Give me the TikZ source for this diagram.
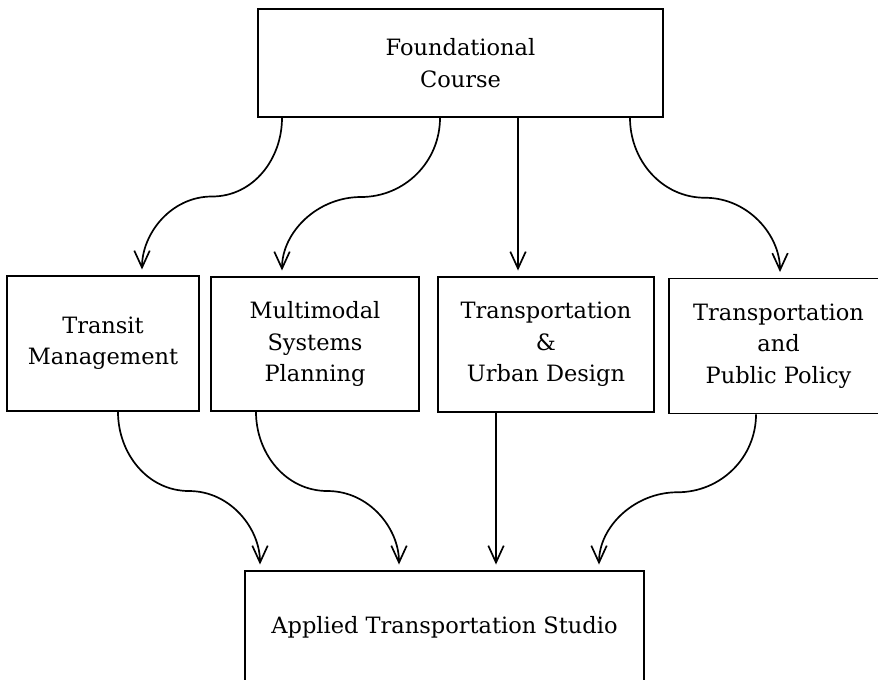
\documentclass[tikz,border=0pt]{standalone}
\usepackage{fontspec}
\setmainfont{DejaVu Serif}
\usetikzlibrary{arrows.meta, calc}
\tikzset{
    box/.style={draw, line width=1.2pt, align=center, inner sep=0pt, font=\fontsize{16}{22.3}\selectfont},
    flow/.style={line width=1.2pt, -{Straight Barb[length=12pt,width=11pt,line width=1.2pt]}, shorten >=4pt},
}
\begin{document}
\begin{tikzpicture}[x=0.025cm, y=-0.025cm]
    \useasboundingbox (0,0) rectangle (878,679);
    \node[box, minimum width=10.125cm, minimum height=2.7cm] (found) at (460.5,63) {Foundational\\Course};
    \node[box, minimum width=4.8cm, minimum height=3.375cm] (tm) at (103,343.5) {Transit\\Management};
    \node[box, minimum width=5.2cm, minimum height=3.35cm] (msp) at (315,344) {Multimodal\\Systems\\Planning};
    \node[box, minimum width=5.4cm, minimum height=3.375cm] (tud) at (546,344.5) {Transportation\\\&\\Urban Design};
    \node[box, minimum width=5.475cm, minimum height=3.375cm] (tpp) at (778.5,346) {Transportation\\and\\Public Policy};
    \node[box, minimum width=9.975cm, minimum height=2.8cm] (studio) at (444.5,627) {Applied Transportation Studio};
    \draw[flow] (found.south -| 282,0) to[out=-90, in=0] ($(found.south -| 282,0)!.5!(tm.north -| 142,0)$) to[out=180, in=90] (tm.north -| 142,0); %% 1
    \draw[flow] (found.south -| 440,0) to[out=-90, in=0] ($(found.south -| 440,0)!.5!(msp.north -| 282,0)$) to[out=180, in=90] (msp.north -| 282,0); %% 2
    \draw[flow] (found.south -| 518,0) -- (tud.north -| 518,0); %% 3
    \draw[flow] (found.south -| 630,0) to[out=-90, in=180] ($(found.south -| 630,0)!.5!(tpp.north -| 780,0)$) to[out=0, in=90] (tpp.north -| 780,0); %% 4
    \draw[flow] (tm.south -| 118,0) to[out=-90, in=180] ($(tm.south -| 118,0)!.5!(studio.north -| 260,0)$) to[out=0, in=90] (studio.north -| 260,0); %% 1
    \draw[flow] (msp.south -| 256,0) to[out=-90, in=180] ($(msp.south -| 256,0)!.5!(studio.north -| 399,0)$) to[out=0, in=90] (studio.north -| 399,0); %% 2
    \draw[flow] (tud.south -| 496,0) -- (studio.north -| 496,0); %% 3
    \draw[flow] (tpp.south -| 756,0) to[out=-90, in=0] ($(tpp.south -| 756,0)!.5!(studio.north -| 599,0)$) to[out=180, in=90] (studio.north -| 599,0); %% 4
\end{tikzpicture}
\end{document}
